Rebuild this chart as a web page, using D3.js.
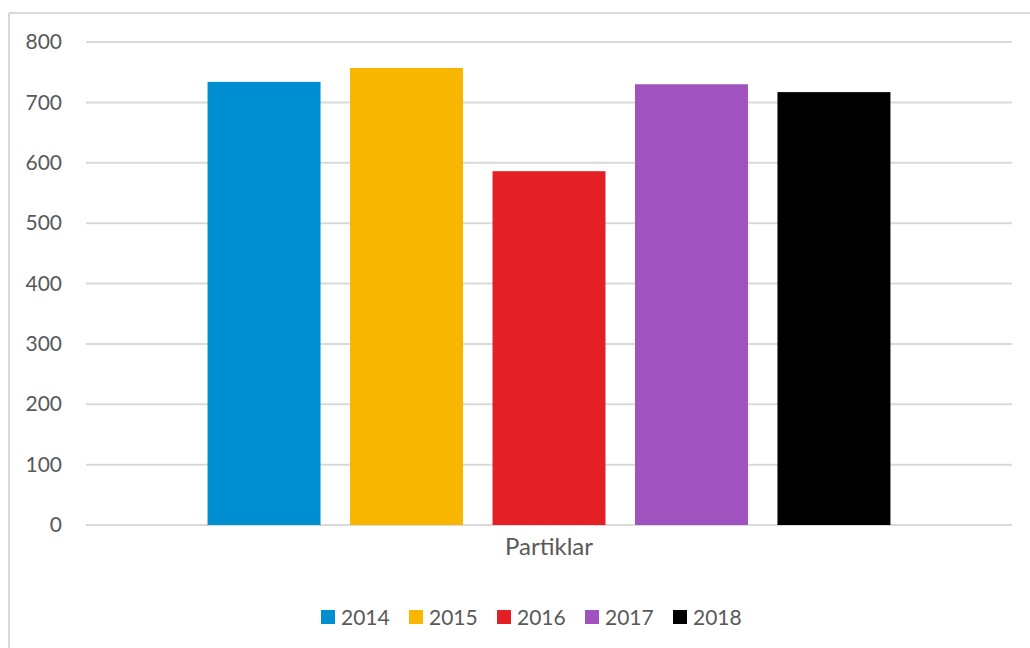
<!DOCTYPE html>
<html>
<head>
<meta charset="utf-8">
<script src="https://cdn.jsdelivr.net/npm/d3@7"></script>
<style>
html,body{margin:0;padding:0;background:#fff;}
svg{display:block;font-family:Lato,"Open Sans",sans-serif;}
</style>
</head>
<body>
<svg id="chart" width="1030" height="648"></svg>
<script>
const categories = ["Partiklar"];
const seriesNames = ["2014", "2015", "2016", "2017", "2018"];
const seriesValues = [734, 757, 586, 730, 717];
const seriesColors = ["#008fd0", "#f8b600", "#e51f26", "#a052be", "#000000"];
const yTicks = [0, 100, 200, 300, 400, 500, 600, 700, 800];

const svg = d3.select("#chart");
const textColor = "#595959";
const gridColor = "#d9d9d9";

// chart border (top & left visible)
svg.append("line").attr("x1", 9).attr("x2", 1030).attr("y1", 13).attr("y2", 13)
  .attr("stroke", gridColor).attr("stroke-width", 2);
svg.append("line").attr("x1", 9).attr("x2", 9).attr("y1", 13).attr("y2", 648)
  .attr("stroke", gridColor).attr("stroke-width", 2);

const plotLeft = 86, plotRight = 1012, plotTop = 42, plotBottom = 525;

const y = d3.scaleLinear().domain([0, 800]).range([plotBottom, plotTop]);
const x0 = d3.scaleBand().domain(categories).range([plotLeft, plotRight])
  .paddingInner(0).paddingOuter(0.178);
const x1 = d3.scaleBand().domain(seriesNames).range([0, x0.bandwidth()])
  .paddingInner(0.207).paddingOuter(0);

// gridlines
svg.append("g").selectAll("line").data(yTicks).join("line")
  .attr("x1", plotLeft).attr("x2", plotRight)
  .attr("y1", d => y(d)).attr("y2", d => y(d))
  .attr("stroke", gridColor).attr("stroke-width", 2);

// y axis labels
const yAxis = d3.axisLeft(y).tickValues(yTicks).tickSize(0).tickPadding(0);
const ga = svg.append("g").attr("transform", `translate(62,0)`).call(yAxis);
ga.select(".domain").remove();
ga.selectAll("text").attr("fill", textColor).attr("font-size", 21)
  .attr("font-family", "Lato, 'Open Sans', sans-serif");

// bars
const data = categories.map(c => ({cat: c, vals: seriesNames.map((s, i) => ({s, v: seriesValues[i], c: seriesColors[i]}))}));
const groups = svg.append("g").selectAll("g").data(data).join("g")
  .attr("transform", d => `translate(${x0(d.cat)},0)`);
groups.selectAll("rect").data(d => d.vals).join("rect")
  .attr("x", d => x1(d.s)).attr("width", x1.bandwidth())
  .attr("y", d => y(d.v)).attr("height", d => y(0) - y(d.v))
  .attr("fill", d => d.c);

// category label
svg.append("g").selectAll("text").data(categories).join("text")
  .attr("x", d => x0(d) + x0.bandwidth() / 2).attr("y", 555)
  .attr("text-anchor", "middle").attr("fill", textColor).attr("font-size", 24)
  .text(d => d);

// legend
const legend = svg.append("g").attr("transform", "translate(321,610)");
const items = legend.selectAll("g").data(seriesNames).join("g")
  .attr("transform", (d, i) => `translate(${i * 88},0)`);
items.append("rect").attr("width", 14).attr("height", 14)
  .attr("fill", (d, i) => seriesColors[i]);
items.append("text").attr("x", 20).attr("y", 15).attr("fill", textColor)
  .attr("font-size", 21).text(d => d);
</script>
</body>
</html>
